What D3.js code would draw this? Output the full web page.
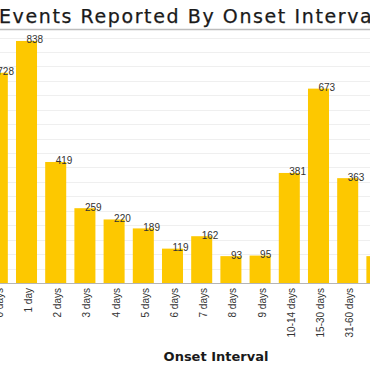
<!DOCTYPE html>
<html>
<head>
<meta charset="utf-8">
<script src="https://cdn.jsdelivr.net/npm/d3@7"></script>
<style>
  body { margin: 0; background: #fff; }
  svg { display: block; }
</style>
</head>
<body>
<div class="canvas"></div>
<script>
// chart data
const intervals = ['0 days', '1 day', '2 days', '3 days', '4 days', '5 days', '6 days',
  '7 days', '8 days', '9 days', '10-14 days', '15-30 days', '31-60 days', '61-120 days'];
const events = [728, 838, 419, 259, 220, 189, 119, 162, 93, 95, 381, 673, 363, 93];
const gridTicks = d3.range(0, 900, 50);

const width = 370, height = 370;
const svg = d3.select('.canvas')
  .append('svg')
    .attr('width', width)
    .attr('height', height);

// the chart is cropped on both sides, so the band range runs past the edges
const x = d3.scaleBand()
  .domain(intervals)
  .range([-13.2, 387.4])
  .paddingInner(0.28)
  .paddingOuter(0);
const y = d3.scaleLinear()
  .domain([0, 876])
  .range([283, 30]);

// title + rule under it
svg.append('text')
  .attr('x', -1)
  .attr('y', 23)
  .attr('font-family', 'DejaVu Sans, Verdana, sans-serif')
  .attr('font-size', 19)
  .attr('letter-spacing', 1.6)
  .attr('fill', '#1a1a1a')
  .attr('stroke', '#1a1a1a')
  .attr('stroke-width', 0.25)
  .text('Events Reported By Onset Interval');
svg.append('line')
  .attr('x1', 0).attr('x2', width)
  .attr('y1', 29.5).attr('y2', 29.5)
  .attr('stroke', '#bdbdbd')
  .attr('stroke-width', 1.5);

// grid lines
svg.append('g')
  .selectAll('line')
  .data(gridTicks.filter(d => d > 0))
  .enter().append('line')
    .attr('x1', 0).attr('x2', width)
    .attr('y1', d => Math.round(y(d)) + 0.5)
    .attr('y2', d => Math.round(y(d)) + 0.5)
    .attr('stroke', '#efefef');

// bars
const data = intervals.map((k, i) => ({ interval: k, value: events[i] }));
svg.append('g')
  .selectAll('rect')
  .data(data)
  .enter().append('rect')
    .attr('x', d => x(d.interval))
    .attr('y', d => y(d.value))
    .attr('width', x.bandwidth())
    .attr('height', d => y(0) - y(d.value))
    .attr('fill', '#fdc800');

// value labels
svg.append('g')
  .selectAll('text')
  .data(data)
  .enter().append('text')
    .attr('x', d => x(d.interval) + x.bandwidth() / 2)
    .attr('y', d => y(d.value) + 2.5)
    .attr('font-family', 'Liberation Sans, Arial, sans-serif')
    .attr('font-size', 10)
    .attr('fill', '#333')
    .text(d => d.value);

// baseline
svg.append('line')
  .attr('x1', 0).attr('x2', width)
  .attr('y1', y(0) + 0.5).attr('y2', y(0) + 0.5)
  .attr('stroke', '#b5b5b5');

// x axis labels, rotated
const xAxisGroup = svg.append('g')
  .attr('transform', `translate(0, ${y(0)})`);
xAxisGroup.call(d3.axisBottom(x).tickSize(0).tickPadding(0));
xAxisGroup.select('.domain').remove();
xAxisGroup.selectAll('text')
  .attr('font-family', 'Liberation Sans, Arial, sans-serif')
  .attr('font-size', 10)
  .attr('fill', '#333')
  .attr('text-anchor', 'end')
  .attr('dy', '0.35em')
  .attr('transform', 'translate(2, 5) rotate(-90)')
  .attr('x', 0)
  .attr('y', 0);

// x axis title
svg.append('text')
  .attr('x', 216)
  .attr('y', 361)
  .attr('text-anchor', 'middle')
  .attr('font-family', 'DejaVu Sans, Verdana, sans-serif')
  .attr('font-weight', 'bold')
  .attr('font-size', 13)
  .attr('fill', '#1a1a1a')
  .text('Onset Interval');
</script>
</body>
</html>
